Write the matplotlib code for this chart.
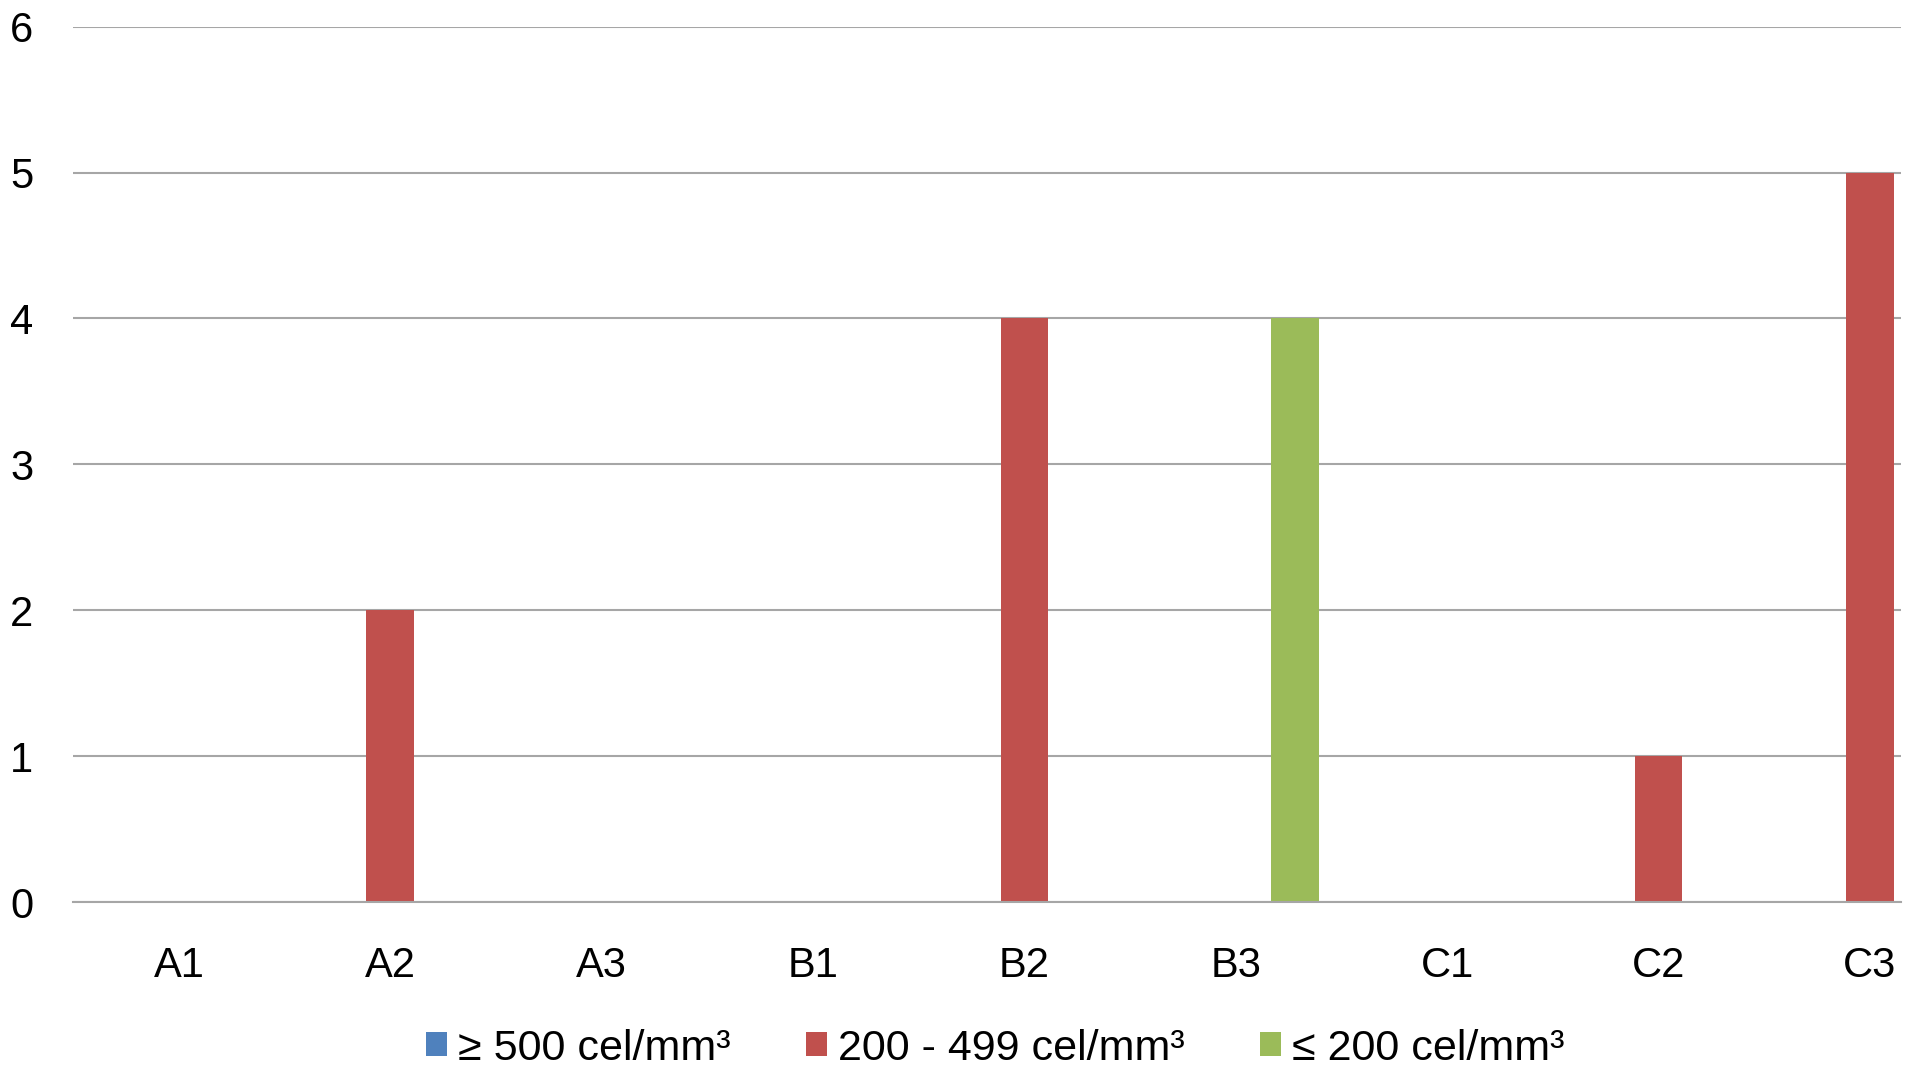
import numpy as np
import matplotlib.pyplot as plt

plt.rcParams['font.family'] = ['Liberation Sans', 'DejaVu Sans']

# data
categories = ['A1', 'A2', 'A3', 'B1', 'B2', 'B3', 'C1', 'C2', 'C3']
ge500 = [0, 0, 0, 0, 0, 0, 0, 0, 0]
mid_200_499 = [0, 2, 0, 0, 4, 0, 0, 1, 5]
le200 = [0, 0, 0, 0, 0, 4, 0, 0, 0]
series_labels = ['≥ 500 cel/mm³', '200 - 499 cel/mm³', '≤ 200 cel/mm³']
colors = ['#4F81BD', '#C0504D', '#9BBB59']

fig = plt.figure(figsize=(19.14, 10.71), dpi=100)
ax = fig.add_axes([73.3 / 1914, 169 / 1071, (1900.7 - 73.3) / 1914, (902 - 26.7) / 1071])

x = np.arange(len(categories))
width = 0.2256
step = 0.279
for i, (vals, lab, col) in enumerate(zip([ge500, mid_200_499, le200], series_labels, colors)):
    ax.bar(x + (i - 1) * step, vals, width, color=col, label=lab, linewidth=0, zorder=3)

ax.set_xlim(-0.5, 8.146)
ax.set_ylim(0, 6)
ax.set_yticks(range(0, 7))
ax.set_xticks(x)
ax.set_xticklabels(categories)

ax.yaxis.grid(True, color='#A6A6A6', linewidth=1.5, zorder=0)
for s in ['top', 'right', 'left']:
    ax.spines[s].set_visible(False)
ax.spines['bottom'].set_color('#A6A6A6')
ax.spines['bottom'].set_linewidth(1.5)
ax.spines['bottom'].set_zorder(4)

ax.tick_params(axis='both', length=0, labelsize=30, colors='black')
ax.tick_params(axis='y', pad=28.8)
ax.tick_params(axis='x', pad=32)

# legend sits at the very bottom edge, as in the original
leg = fig.legend(loc='center', bbox_to_anchor=(0.520, 0.021), ncol=3, frameon=False,
                 fontsize=31, handlelength=0.5, handleheight=0.5, handletextpad=0.26,
                 columnspacing=1.73, borderpad=0)

fig.savefig('out.png', dpi=100)
